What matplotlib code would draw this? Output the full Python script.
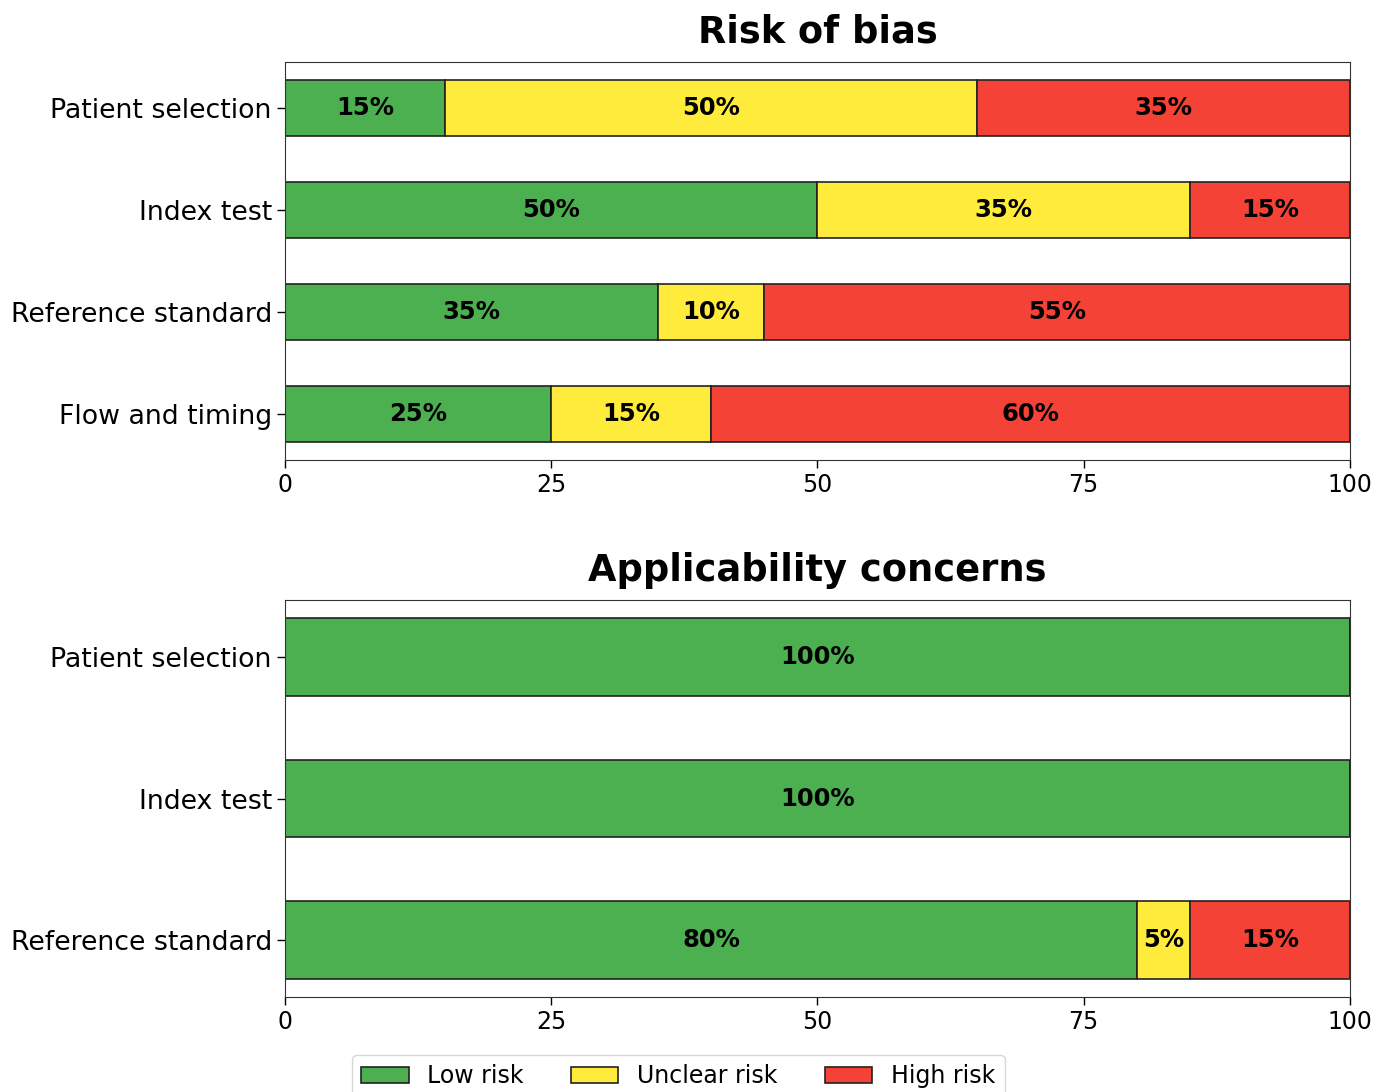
import matplotlib
matplotlib.use("Agg")
import matplotlib.pyplot as plt
import numpy as np

rob_domains = ["Patient selection", "Index test", "Reference standard", "Flow and timing"]
rob_low = [15, 50, 35, 25]
rob_unclear = [50, 35, 10, 15]
rob_high = [35, 15, 55, 60]

app_domains = ["Patient selection", "Index test", "Reference standard"]
app_low = [100, 100, 80]
app_unclear = [0, 0, 5]
app_high = [0, 0, 15]

categories = ["Low risk", "Unclear risk", "High risk"]
colors = ["#4CAF50", "#FFEB3B", "#F44336"]
xticks = [0, 25, 50, 75, 100]

fig = plt.figure(figsize=(13.87, 10.92), dpi=100)
ax1 = fig.add_axes([0.2055, 0.5788, 0.7678, 0.3645])
ax2 = fig.add_axes([0.2055, 0.0870, 0.7678, 0.3635])

def draw(ax, domains, low, unclear, high, title):
    y = np.arange(len(domains))
    left = np.zeros(len(domains))
    handles = []
    for vals, col, lab in zip([low, unclear, high], colors, categories):
        vals = np.array(vals, dtype=float)
        b = ax.barh(y, vals, left=left, height=0.55, color=col,
                    edgecolor="#222222", linewidth=1.2, label=lab)
        handles.append(b)
        for yi, v, l in zip(y, vals, left):
            if v > 0:
                ax.text(l + v / 2, yi, f"{int(v)}%", ha="center", va="center",
                        fontsize=17.5, fontweight="bold", color="black")
        left = left + vals
    ax.set_yticks(y)
    ax.set_yticklabels(domains, fontsize=19.3)
    ax.invert_yaxis()
    ax.set_xlim(0, 100)
    ax.set_xticks(xticks)
    ax.set_xticklabels([str(t) for t in xticks], fontsize=17)
    ax.tick_params(length=6, width=1)
    for s in ax.spines.values():
        s.set_color("#333333")
    ax.set_title(title, fontsize=26.5, fontweight="bold", pad=14)
    return handles

h = draw(ax1, rob_domains, rob_low, rob_unclear, rob_high, "Risk of bias")
draw(ax2, app_domains, app_low, app_unclear, app_high, "Applicability concerns")

fig.legend(handles=h, labels=categories, loc="upper center",
           bbox_to_anchor=(0.489, 0.034), ncol=3, fontsize=17,
           frameon=True, handlelength=2.0, columnspacing=2.0,
           borderaxespad=0)

fig.savefig("out.png", dpi=100)
